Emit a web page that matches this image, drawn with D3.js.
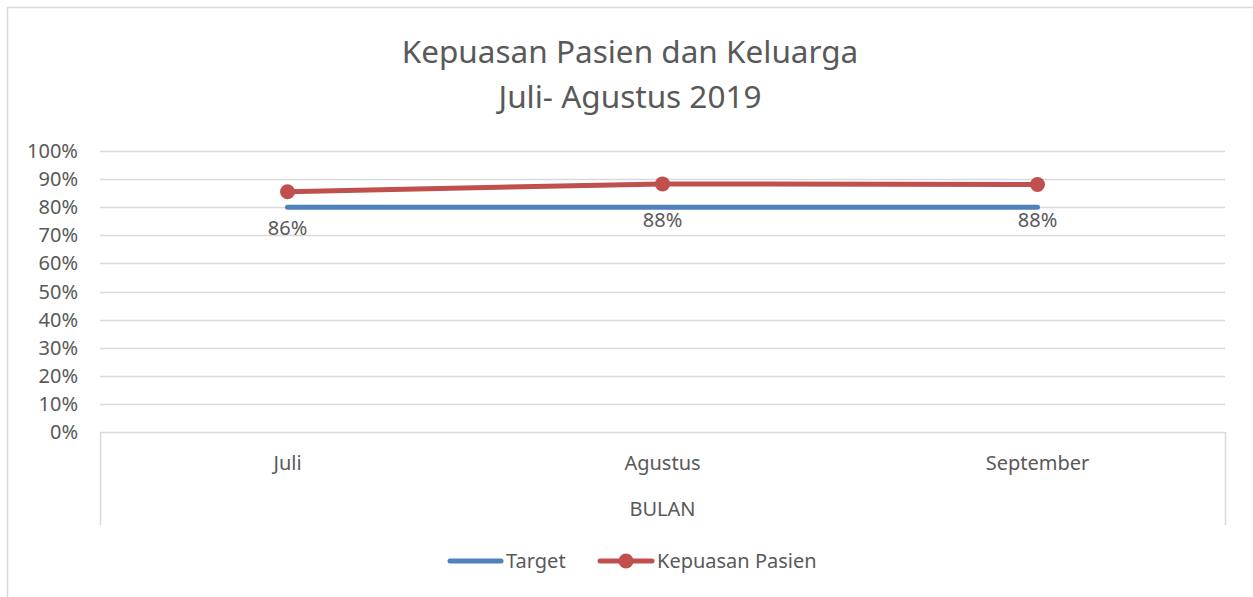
<!DOCTYPE html>
<html><head><meta charset="UTF-8">
<style>
body { margin: 0; background: #fff; }
text { font-family: "Noto Sans", sans-serif; fill: #595959; }
</style>
</head>
<body>
<svg width="1253" height="597"></svg>
<script src="https://cdn.jsdelivr.net/npm/d3@7"></script>
<script>

var months = ["Juli", "Agustus", "September"];
var target = [0.80, 0.80, 0.80];
var kepuasan = [0.855, 0.883, 0.881];
var kepuasanLabels = ["86%", "88%", "88%"];
var yTicks = [0, 0.1, 0.2, 0.3, 0.4, 0.5, 0.6, 0.7, 0.8, 0.9, 1.0];

var fs = 20;

var svg = d3.select("svg"),
    margin = {top: 151, right: 28, bottom: 165, left: 100},
    width = +svg.attr("width") - margin.left - margin.right,
    height = +svg.attr("height") - margin.top - margin.bottom;

// chart border
svg.append("path")
    .attr("d", "M7.5,597 V7.5 H1253")
    .attr("fill", "none")
    .attr("stroke", "#d9d9d9")
    .attr("stroke-width", 1.5);

var g = svg.append("g").attr("transform", "translate(" + margin.left + "," + margin.top + ")");

var x = d3.scaleBand().domain(months).range([0, width]);
var y = d3.scaleLinear().domain([0, 1]).range([height, 0]);

// gridlines
g.append("g")
  .selectAll("line")
  .data(yTicks)
  .enter().append("line")
    .attr("x1", 0).attr("x2", width)
    .attr("y1", function(d) { return Math.round(y(d)) + 0.5; })
    .attr("y2", function(d) { return Math.round(y(d)) + 0.5; })
    .attr("stroke", "#d9d9d9")
    .attr("stroke-width", 1.5);

// y axis labels
g.append("g")
  .selectAll("text")
  .data(yTicks)
  .enter().append("text")
    .attr("x", -22)
    .attr("y", function(d) { return y(d); })
    .attr("dy", "0.35em")
    .attr("text-anchor", "end")
    .attr("font-size", fs)
    .text(d3.format(".0%"));

// category axis box (multi-level)
g.append("g")
  .selectAll("line")
  .data([0, width])
  .enter().append("line")
    .attr("x1", function(d) { return d + 0.5; })
    .attr("x2", function(d) { return d + 0.5; })
    .attr("y1", height)
    .attr("y2", height + 93)
    .attr("stroke", "#d9d9d9")
    .attr("stroke-width", 1.5);

g.append("g")
  .selectAll("text")
  .data(months)
  .enter().append("text")
    .attr("x", function(d) { return x(d) + x.bandwidth() / 2; })
    .attr("y", height + 31)
    .attr("dy", "0.35em")
    .attr("text-anchor", "middle")
    .attr("font-size", fs)
    .text(function(d) { return d; });

g.append("text")
    .attr("x", width / 2)
    .attr("y", height + 77)
    .attr("dy", "0.35em")
    .attr("text-anchor", "middle")
    .attr("font-size", fs)
    .text("BULAN");

// title
var title = svg.append("text")
    .attr("text-anchor", "middle")
    .attr("font-size", 31.5);
title.append("tspan").attr("x", 630).attr("y", 63).text("Kepuasan Pasien dan Keluarga");
title.append("tspan").attr("x", 630).attr("y", 108).text("Juli- Agustus 2019");

var cx = function(i) { return x(months[i]) + x.bandwidth() / 2; };
var line = d3.line()
    .x(function(d, i) { return cx(i); })
    .y(function(d) { return y(d); });

g.append("path")
    .datum(target)
    .attr("d", line)
    .attr("fill", "none")
    .attr("stroke", "#4f81bd")
    .attr("stroke-width", 5)
    .attr("stroke-linecap", "round");

g.append("path")
    .datum(kepuasan)
    .attr("d", line)
    .attr("fill", "none")
    .attr("stroke", "#c0504d")
    .attr("stroke-width", 5)
    .attr("stroke-linecap", "round");

g.append("g")
  .selectAll("circle")
  .data(kepuasan)
  .enter().append("circle")
    .attr("cx", function(d, i) { return cx(i); })
    .attr("cy", function(d) { return y(d); })
    .attr("r", 7.5)
    .attr("fill", "#c0504d");

g.append("g")
  .selectAll("text")
  .data(kepuasan)
  .enter().append("text")
    .attr("x", function(d, i) { return cx(i); })
    .attr("y", function(d) { return y(d) + 36; })
    .attr("dy", "0.35em")
    .attr("text-anchor", "middle")
    .attr("font-size", fs)
    .text(function(d, i) { return kepuasanLabels[i]; });

// legend
var legend = svg.append("g").attr("transform", "translate(0,561)");
legend.append("line")
    .attr("x1", 450).attr("x2", 501).attr("y1", 0).attr("y2", 0)
    .attr("stroke", "#4f81bd").attr("stroke-width", 5).attr("stroke-linecap", "round");
legend.append("text")
    .attr("x", 506).attr("y", 0).attr("dy", "0.35em")
    .attr("font-size", fs).text("Target");
legend.append("line")
    .attr("x1", 600).attr("x2", 652).attr("y1", 0).attr("y2", 0)
    .attr("stroke", "#c0504d").attr("stroke-width", 5).attr("stroke-linecap", "round");
legend.append("circle")
    .attr("cx", 626).attr("cy", 0).attr("r", 7.5).attr("fill", "#c0504d");
legend.append("text")
    .attr("x", 657).attr("y", 0).attr("dy", "0.35em")
    .attr("font-size", fs).text("Kepuasan Pasien");

</script>
</body></html>
